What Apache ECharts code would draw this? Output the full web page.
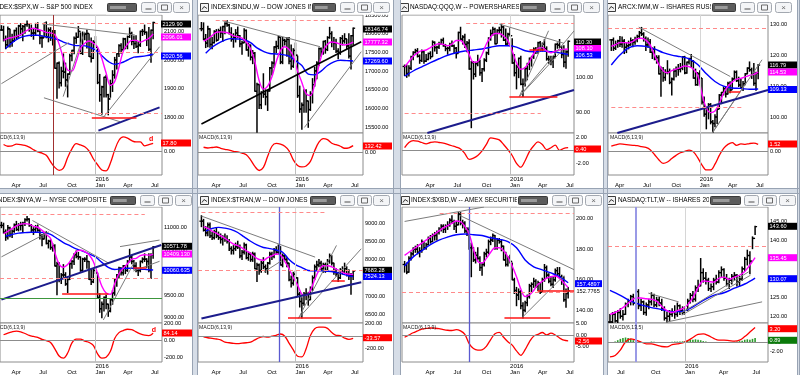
<!DOCTYPE html>
<html><head><meta charset="utf-8">
<script src="https://cdn.jsdelivr.net/npm/echarts@6/dist/echarts.min.js"></script>
<style>html,body{margin:0;padding:0;background:#fff}#c{width:800px;height:375px}</style>
</head><body><div id="c"></div><script>
// ================= DATA =================
// ---- S&P 500 ----
const spxStart='2015-02-27';
const spxHi=[2119,2117,2083,2114,2107,2089,2103,2111,2120,2126,2120,2123,2135,2126,2121,2109,2127,2129,2102,2082,2127,2132,2111,2112,2102,2102,1990,1993,1975,2021,1989,1952,2020,2034,2080,2094,2116,2094,2097,2094,2104,2090,2076,2067,2081,2039,1950,1909,1940,1947,1881,1930,1963,2009,2022,2053,2056,2075,2075,2083,2111,2096,2083,2084,2062,2100,2106,2121,2097,2113,2104,2131];
const spxLo=[2103,2066,2039,2045,2045,2048,2064,2073,2079,2086,2067,2093,2117,2100,2082,2072,2085,2098,2056,2044,2080,2077,2063,2068,2052,1971,1867,1903,1910,1938,1909,1872,1951,1997,2022,2058,2079,2022,2019,2070,2042,2012,1993,2005,2043,1918,1857,1812,1872,1872,1810,1871,1891,1937,1969,2012,2023,2034,2039,2039,2078,2053,2040,2043,2025,2047,2085,2089,2050,2033,1992,2074];
const spxCl=[2104,2071,2053,2108,2061,2067,2102,2081,2118,2108,2116,2123,2126,2107,2093,2094,2110,2101,2077,2077,2127,2080,2104,2078,2092,1971,1989,1921,1961,1958,1931,1951,2015,2033,2075,2079,2099,2023,2089,2090,2092,2012,2006,2061,2044,1922,1880,1907,1940,1880,1865,1918,1948,2000,2022,2050,2036,2073,2048,2081,2092,2065,2057,2047,2052,2099,2099,2096,2071,2037,2103,2130];
const spxPink=[2068,2075,2078,2082,2088,2098,2106,2110,2106,2102,2096,2094,2088,2055,2005,1965,1962,1995,2040,2058,2066,2058,2045,2005,1955,1912,1925,1975,2030,2055,2068,2068,2062,2068,2075,2090];
const spxBlue=[2040,2060,2075,2083,2086,2086,2082,2078,2072,2062,2055,2050,2050,2045,2035,2015,1995,1985,1990,2000,2010,2012,2015,2020];
const spxMacd=[15,11,12,16,15,13,9,3,-2,-5,-10,-25,-38,-45,-40,-15,5,17,14,10,0,-18,-32,-44,-46,-28,2,25,33,30,24,21,21,12,15,18];
const spxSteps=[2,3,2];
const spxLbl=['2129.90','2096.01','2020.56','17.80'];
const spxTicks=[1800,1900,2000,2100];
const spxMTicks=[0];
const spxGray=[[0,1918,31.5,2060],[28.9,1873,38.9,2098],[19.1,2125,62.4,2087],[19.9,1869,55.5,1786],[47.7,1801,74,2046]];
const spxNavy=[[45.4,1755,74,1836]];
const spxDash=[2126,2027,1817];
const spxRedSpan=[[42.3,1800,63.2]];
const spxVert=[24.1];

// ---- Dow Jones Industrials ----
const djiStart='2015-02-27';
const djiHi=[18300,18290,17980,18200,18130,17900,18080,18110,18120,18180,18200,18290,18350,18250,18160,18000,18110,18180,17950,17800,18130,18100,17750,17700,17550,17500,16680,16650,16450,16930,16500,16480,17100,17250,17650,17800,17930,17900,17900,17850,17900,17900,17700,17600,17750,17400,16600,16150,16500,16500,16200,16450,16800,17100,17250,17620,17620,17800,17820,17920,18170,18050,17900,17850,17600,17900,17950,18000,17850,18000,17950,18150];
const djiLo=[18080,17840,17630,17650,17640,17600,17750,17800,17850,17900,17800,18000,18200,17990,17800,17640,17780,17900,17650,17450,17760,17560,17400,17300,17200,16460,15370,16000,16000,16300,16100,15950,16470,16900,17100,17500,17600,17200,17200,17700,17400,17200,17050,17100,17400,16300,15900,15450,15900,15900,15500,15950,16150,16600,16800,17150,17400,17450,17480,17550,17880,17650,17580,17500,17330,17450,17700,17750,17600,17350,17060,17700];
const djiCl=[18133,17856,17749,18128,17713,17763,18058,17826,18080,18024,18191,18272,18232,18011,17849,17899,18016,17947,17730,17760,18086,17568,17690,17373,17477,16460,16643,16102,16433,16385,16315,16472,17084,17216,17647,17664,17910,17245,17824,17798,17848,17265,17128,17553,17425,16347,15988,16094,16466,16205,15974,16392,16640,17007,17213,17602,17516,17793,17577,17898,18004,17774,17741,17535,17501,17873,17807,17865,17675,17400,17949,18147];
const djiPink=[17800,17860,17950,18040,18050,18040,18010,17940,17920,17880,17780,17600,17250,16750,16520,16600,16850,17250,17550,17650,17580,17400,17000,16700,16400,16350,16650,17150,17550,17720,17780,17760,17720,17700,17720,17777];
const djiBlue=[17480,17640,17750,17830,17870,17860,17840,17760,17620,17530,17470,17460,17440,17400,17280,17150,16920,16900,17000,17150,17250,17290,17280,17270];
const djiMacd=[100,85,95,105,80,60,45,20,10,-15,-50,-150,-280,-360,-300,-80,120,175,160,120,30,-150,-260,-290,-270,-180,30,200,270,250,180,150,120,80,90,132];
const djiSteps=[2,3,2];
const djiLbl=['18146.74','17777.32','17269.60','132.42'];
const djiTicks=[15500,16000,16500,17000,17500,18000,18500];
const djiMTicks=[0];
const djiBlack=[[0,15589,74.8,17787]];
const djiGray=[[9.8,18348,55.5,17653],[48.2,15496,74.8,17520]];
const djiDashSpan=[[6.7,18348,71]];

// ---- QQQ ----
const qqqStart='2015-01-23';
const qqqHi=[103.5,103.5,103.3,106.0,107.3,108.0,108.2,106.4,107.8,107.5,106.5,106.9,107.3,110.4,110.1,108.9,110.0,110.9,111.2,109.4,108.6,109.7,110.4,109.2,108.5,112.9,114.3,111.9,112.3,110.2,110.7,104.5,104.5,104.3,106.3,104.9,102.5,105.3,107.2,111.3,113.5,114.3,114.0,113.6,114.3,115.3,114.5,113.8,112.6,114.0,111.0,106.5,103.5,105.5,106.0,99.5,102.8,104.0,105.5,106.0,108.4,108.5,110.0,110.2,109.8,110.8,108.7,106.0,106.0,106.0,109.5,109.8,110.8,108.9,109.0,107.6,110.4];
const qqqLo=[100.5,100.0,100.4,102.2,105.0,106.9,105.8,104.0,104.5,104.0,104.5,105.0,105.3,106.0,107.5,106.8,108.2,109.5,108.9,107.6,106.6,107.6,108.8,107.0,105.5,107.0,110.6,109.5,108.5,107.3,102.3,85.6,99.5,100.2,103.3,100.6,98.8,101.8,104.5,106.5,110.6,112.0,109.5,109.7,112.7,111.5,110.5,109.2,109.5,111.8,104.0,100.4,96.7,99.9,97.9,94.5,97.5,99.3,102.2,103.2,105.4,106.8,106.9,107.5,107.5,108.0,104.9,104.0,103.6,102.8,105.6,108.3,108.5,105.6,103.0,102.6,106.0];
const qqqCl=[103.1,101.1,102.6,105.8,107.1,107.6,106.0,104.8,107.3,104.6,105.1,106.8,105.9,110.0,108.5,108.6,109.6,110.6,109.0,108.2,108.3,109.4,109.0,108.3,106.8,112.8,110.9,111.5,109.4,109.8,102.4,104.2,100.9,103.9,104.5,101.3,102.4,104.9,107.0,111.1,112.5,113.7,109.6,113.4,113.5,114.4,110.6,109.5,112.3,111.9,104.1,101.3,103.0,105.4,98.0,98.0,102.5,103.8,105.4,105.9,108.0,107.6,109.9,108.2,109.5,108.2,105.3,105.1,104.5,105.9,109.4,109.2,108.6,106.5,104.3,107.3,110.3];
const qqqPink=[103.0,104.5,106.0,107.0,107.6,107.8,108.5,109.2,109.6,109.4,109.0,109.5,110.5,110.5,109.0,106.5,104.3,104.5,106.5,109.5,111.5,112.5,112.5,111.8,110.5,107.5,104.2,102.3,102.8,104.5,106.8,108.3,108.5,107.5,107.0,107.5,107.8,108.0,108.1];
const qqqBlue=[100.3,101.8,103.0,104.2,105.3,106.3,107.0,107.5,107.8,108.1,108.6,109.0,109.0,108.6,107.6,107.3,107.5,107.3,107.0,106.5];
const qqqMacd=[0.4,1.2,1.5,1.4,1.2,1.0,1.2,1.3,1.2,1.1,0.9,0.7,0.5,0.2,-0.5,-1.4,-1.2,-0.8,-0.1,0.9,1.9,1.8,1.6,0.9,0.1,-0.8,-2.0,-2.6,-1.6,-0.2,0.7,1.3,0.9,0.1,0.4,0.8,0.0,0.3,0.4];
const qqqSteps=[2,4,2];
const qqqLbl=['110.30','108.10','106.53','0.40'];
const qqqTicks=[90,100,110];
const qqqMTicks=[-2,0,2];
const qqqGray=[[44,115.2,74.1,109.7],[53.3,94.5,66.9,113.3],[53.3,94.5,78.8,113.3],[53.3,94.5,74.1,108.3]];
const qqqNavy=[[10.1,84,78.8,96.4]];
const qqqRedSpan=[[48.7,94.5,71],[58,107.8,64.9]];
const qqqDashSpan=[[28.6,115.4,78.8],[0,89.7,63.3]];

// ---- IWM ----
const iwmStart='2015-03-20';
const iwmHi=[125.0,125.5,124.5,124.8,126.0,125.8,125.0,123.8,124.5,125.5,125.0,125.7,126.4,127.6,128.9,127.2,125.8,125.5,125.0,122.3,122.7,119.8,119.8,116.2,116.0,115.3,118.2,115.5,112.6,115.5,116.2,117.0,117.3,119.5,119.6,117.8,119.0,120.2,118.2,115.5,114.4,115.0,112.5,106.5,103.0,104.4,104.4,99.0,100.8,102.8,107.3,108.0,109.8,109.7,111.3,111.4,112.6,114.9,114.9,112.9,112.2,111.5,114.1,115.9,117.8,115.8,117.3,114.5,117.0];
const iwmLo=[121.5,121.5,121.8,122.5,122.8,122.5,120.5,120.8,122.0,123.2,122.7,123.5,124.3,125.5,126.3,124.5,121.5,122.5,120.8,118.9,118.5,117.4,113.9,106.8,111.6,111.9,114.0,110.8,107.2,112.0,113.0,113.5,114.6,115.3,114.0,114.2,117.1,116.1,112.6,110.3,110.3,112.2,104.3,100.3,96.3,99.5,97.9,94.8,97.0,98.0,102.8,104.4,107.2,106.5,107.5,107.9,109.0,112.3,111.5,109.9,109.5,108.6,110.5,114.0,114.8,112.5,110.3,108.7,112.4];
const iwmCl=[124.9,122.2,123.5,124.6,123.5,124.5,122.5,123.0,123.3,124.6,124.2,125.0,126.0,127.2,126.8,125.1,123.3,124.2,120.9,122.0,118.7,119.2,114.0,115.2,112.8,114.4,114.7,111.2,112.3,114.9,115.5,115.5,115.9,119.4,114.3,117.7,118.8,118.0,112.6,110.5,114.0,112.6,104.9,101.0,102.5,104.1,98.5,98.0,100.1,102.6,107.1,108.0,109.2,107.5,110.9,108.8,112.3,114.5,111.8,110.4,109.5,110.8,114.0,115.8,115.3,113.8,110.9,114.2,116.8];
const iwmPink=[122.8,123.4,124.0,124.0,123.9,124.4,125.3,125.4,124.8,123.3,120.0,117.0,115.0,114.3,115.0,115.5,116.0,116.5,116.3,115.5,113.5,107.5,103.0,101.5,102.0,104.5,107.8,110.0,111.3,112.3,112.5,113.0,113.5,113.8,114.5];
const iwmBlue=[116.8,120.0,122.3,123.0,122.8,122.0,120.8,120.0,119.5,118.8,117.0,114.0,111.5,110.0,109.4,109.3,109.0,109.1];
const iwmMacd=[1.1,1.4,1.6,1.5,1.4,1.3,1.2,1.0,0.8,0.3,-0.8,-2.0,-2.8,-2.5,-1.7,-1.0,-0.4,-0.1,0.2,-0.2,-1.5,-3.2,-4.3,-4.3,-3.0,-1.0,0.6,1.5,1.9,1.3,1.6,1.5,1.7,1.8,1.5];
const iwmSteps=[2,4,2];
const iwmLbl=['116.79','114.53','109.13','1.52'];
const iwmTicks=[100,110,120,130];
const iwmMTicks=[0];
const iwmGray=[[12.7,129,55.1,113.1],[45.8,94,69.8,118.5],[45.8,94,62.8,111.5]];
const iwmNavy=[[-0.5,94.3,72.8,108.8]];
const iwmDash=[128.6];
const iwmDashSpan=[[0,103.2,61.3]];
const iwmRedSpan=[[54.3,108.3,59.7]];

// ---- NYSE Composite ----
const nyaStart='2015-02-27';
const nyaHi=[11120,11100,10950,11050,11010,10950,11080,11140,11090,11120,11120,11200,11250,11200,11070,11000,11050,11060,10960,10850,10900,10910,10720,10730,10640,10620,10230,10220,9980,10180,10000,9860,10220,10270,10420,10480,10450,10350,10320,10330,10380,10250,10070,10080,10140,9990,9530,9350,9460,9500,9300,9420,9600,9870,9960,10120,10110,10160,10160,10270,10520,10380,10270,10220,10100,10260,10330,10420,10310,10420,10420,10580];
const nyaLo=[11000,10880,10720,10750,10800,10780,10900,10940,10930,10950,10900,11050,11150,11030,10900,10850,10900,10920,10750,10600,10750,10640,10550,10520,10480,10150,9510,9800,9760,9900,9720,9560,9850,10100,10180,10330,10300,10030,10040,10250,10100,9850,9740,9780,9980,9430,9120,9000,9150,9200,9030,9130,9300,9500,9700,9880,9950,9950,9980,10030,10240,10200,10080,10020,9940,10020,10220,10250,10120,10020,9870,10320];
const nyaCl=[11050,10900,10800,11000,10850,10920,11060,10960,11060,11050,11100,11180,11190,11050,10950,10960,11000,10940,10820,10750,10880,10650,10700,10560,10600,10150,10200,9850,9950,9950,9750,9850,10200,10250,10400,10360,10350,10050,10300,10300,10250,9850,9800,10050,10000,9450,9200,9300,9450,9300,9150,9400,9550,9850,9950,10100,10000,10150,10050,10250,10350,10250,10150,10050,10050,10250,10300,10300,10250,10050,10400,10572];
const nyaPink=[10870,10920,10980,11040,11080,11090,11080,11030,11010,10940,10850,10760,10450,10190,10120,10180,10320,10470,10500,10470,10400,10250,9980,9700,9550,9520,9760,9980,10100,10200,10300,10320,10380,10400,10390,10409];
const nyaBlue=[10810,10850,10880,10890,10900,10900,10890,10850,10760,10670,10600,10530,10480,10420,10350,10230,10120,10070,10090,10100,10100,10080,10070,10060];
const nyaMacd=[65,85,100,108,100,80,58,45,35,10,-5,-25,-100,-185,-210,-150,-30,15,15,-10,-25,-60,-160,-210,-200,-130,20,90,115,130,125,100,75,60,55,84];
const nyaSteps=[2,3,2];
const nyaLbl=['10571.78','10409.130','10060.635','84.14'];
const nyaTicks=[9000,9500,10000,10500,11000];
const nyaMTicks=[-200,0,200];
const nyaNavy=[[0,9402,74.8,10617]];
const nyaGray=[[0,10352,22.2,10906],[14.5,11160,50,10218],[47.7,8950,62.4,10254],[55.5,10580,74,10725],[61.7,10037,74,10254]];
const nyaDashSpan=[[0,11291,67.1]];
const nyaDash=[9870];
const nyaRedSpan=[[28.4,9536,50.1],[61.7,10102,67.9]];
const nyaGreen=[9443];

// ---- Dow Jones Transports ----
const trnStart='2015-02-27';
const trnHi=[9200,9100,8900,9000,9000,8750,8800,8850,8750,8700,8650,8700,8650,8550,8350,8380,8450,8500,8400,8250,8450,8420,8200,8180,8200,8180,7900,7880,7950,8050,7850,7920,8200,8200,8300,8350,8400,8350,8150,8120,8050,7900,7550,7650,7680,7500,7100,6950,7100,7200,7100,7250,7550,7850,7950,8000,7950,7900,7900,8000,8150,8100,7900,7750,7650,7750,7800,7900,7800,7720,7620,7700];
const trnLo=[8900,8780,8650,8650,8600,8550,8560,8600,8550,8450,8400,8500,8450,8250,8150,8150,8250,8300,8050,8000,8150,8020,7980,7950,7950,7750,7400,7600,7650,7750,7650,7600,7880,8000,8050,8150,8150,7850,7800,7980,7800,7420,7250,7300,7480,7000,6700,6400,6750,6900,6750,6900,7150,7450,7700,7800,7700,7650,7650,7700,7900,7850,7600,7550,7400,7480,7600,7650,7550,7450,7050,7450];
const trnCl=[9050,8800,8730,8950,8650,8600,8750,8650,8600,8550,8600,8550,8500,8300,8250,8300,8350,8350,8100,8200,8400,8050,8150,8000,8150,7750,7850,7700,7900,7800,7750,7900,8150,8100,8250,8200,8350,7850,8100,8000,7900,7450,7350,7600,7500,7050,6850,6800,7050,7050,6900,7200,7500,7800,7850,7900,7750,7850,7700,7950,8100,7900,7650,7600,7500,7700,7650,7750,7600,7550,7550,7683];
const trnPink=[8900,8850,8780,8720,8650,8580,8500,8420,8380,8320,8240,8170,8070,8000,7980,8050,8100,8150,8120,7950,7750,7500,7300,7050,7020,7150,7450,7700,7830,7830,7800,7740,7680,7620,7600,7590];
const trnBlue=[8780,8850,8880,8860,8820,8740,8620,8500,8400,8330,8300,8260,8200,8000,7860,7780,7700,7690,7690,7680,7660,7620,7570,7530];
const trnMacd=[-10,-25,-35,-45,-60,-95,-105,-115,-120,-112,-105,-95,-60,-25,-5,-15,0,15,35,0,-110,-220,-320,-330,-200,10,120,145,145,125,60,15,10,-30,-50,-34];
const trnSteps=[2,3,2];
const trnLbl=['7683.28','7524.13','-33.57'];
const trnTicks=[6500,7000,7500,8000,8500,9000];
const trnMTicks=[-200,0,200];
const trnNavy=[[0,6385,74.8,7379]];
const trnGray=[[0,9189,53.2,8066],[45.4,6390,63.2,8386],[45.4,6390,74.8,8295],[29.2,7654,37.7,7974]];
const trnDashSpan=[[0,9300,58.6]];
const trnDash=[7718];
const trnRedSpan=[[40.5,6400,60.9],[60.9,7430,67.1]];
const trnVert=[36.6];

// ---- AMEX Securities Broker/Dealer ----
const xbdStart='2015-01-23';
const xbdHi=[172,171,175,178,181,182,183,181,186,185,184,188,189,190,191,192,194,196,196,196,198,200,202,199,198,204,204,199,198,194,194,184,181,178,181,175,171,178,180,186,188,190,189,187,187,186,182,178,175,176,171,161,155,154,153,145,146,150,157,158,161,160,159,158,161,170,169,164,162,162,167,168,168,163,162,154,155];
const xbdLo=[165,164,165,173,176,178,177,175,178,180,180,183,184,185,186,186,190,192,191,191,193,195,197,193,191,196,196,194,191,189,180,162,172,171,173,166,163,169,175,177,183,185,180,180,184,179,173,169,169,171,160,151,143,147,141,135,139,143,148,152,155,155,153,151,152,159,161,158,156,155,159,163,161,157,146,142,148];
const xbdCl=[170,165,174,177,180,180,178,179,185,181,183,187,185,189,189,191,193,195,193,195,196,199,198,195,196,203,197,197,192,193,181,181,173,176,174,168,170,177,178,185,186,189,181,186,185,182,173,170,174,172,160,153,150,152,143,140,145,149,156,157,159,156,158,152,160,168,163,159,157,160,166,164,162,159,147,151,152.8];
const xbdPink=[176,178,180,182,184,186,188,190,192,194,195.5,197,198.5,198,195,190,180,172,171,174,178,181,181,179,175,169,162,154,149,150,153,157,159,161,162,162.5,161,158,155];
const xbdBlue=[169,175,179,183,186,188,189.5,190,189.5,189,187.5,186.5,185,181,173,168.5,166.5,164.5,162,158];
const xbdMacd=[-1.0,0.0,1.0,1.8,2.6,2.9,3.1,3.0,2.8,2.4,2.1,2.0,2.4,1.8,0.3,-3.8,-6.0,-6.7,-6.6,-5.0,-2.0,0.5,1.2,-1.0,-3.0,-4.5,-7.0,-9.0,-6.5,-3.0,-0.5,0.3,1.1,0.0,0.8,0.0,-1.3,-2.3,-2.56];
const xbdSteps=[2,4,2];
const xbdLbl=['157.4897','152.7765','-2.56'];
const xbdTicks=[140,160,180,200];
const xbdMTicks=[-5,0,5];
const xbdGray=[[0,198.2,38.6,208.1],[25.5,202.2,79.5,166.1],[54.8,135.5,74.1,162.8]];
const xbdDashSpan=[[16.3,203.3,79.5]];
const xbdDash=[151.6];
const xbdRedSpan=[[46.4,135,67.7],[61.8,152.6,78.8]];
const xbdVert=[30.2];

// ---- TLT ----
const tltStart='2015-06-12';
const tltHi=[120.5,121.0,121.2,121.5,122.0,121.5,123.5,124.5,125.5,125.8,128.8,127.0,124.5,124.0,123.5,124.5,126.2,125.8,125.0,125.0,124.5,122.5,121.0,121.5,122.0,122.8,123.5,123.0,122.5,122.5,124.5,126.0,126.5,128.0,129.5,135.2,132.5,131.5,130.0,128.5,130.0,130.8,132.0,133.0,132.5,131.0,130.0,131.0,131.5,131.0,130.5,133.0,135.5,137.4,137.0,140.9,143.7];
const tltLo=[118.0,118.3,118.5,118.2,119.5,119.0,120.5,122.5,123.0,123.0,123.5,122.0,121.5,120.5,120.3,122.0,123.0,122.5,122.5,122.8,121.5,119.0,118.5,118.8,120.0,119.5,120.0,120.5,120.5,120.5,121.5,123.5,123.8,124.0,126.5,128.0,129.0,128.5,126.8,126.5,127.0,128.5,128.8,130.5,129.5,128.0,127.3,128.5,129.5,128.0,128.0,129.5,132.0,133.5,131.2,137.8,141.5];
const tltCl=[118.5,120.5,118.8,121.0,120.0,120.5,123.2,124.0,125.2,123.5,126.5,122.8,123.8,121.0,123.0,123.8,125.5,123.0,124.3,123.5,122.0,119.5,120.0,120.5,121.0,120.5,122.8,121.5,121.0,121.8,124.0,125.5,124.5,127.5,128.0,131.5,130.0,129.5,127.3,127.8,129.5,129.0,131.5,132.3,130.0,128.5,129.5,130.5,130.8,129.0,129.8,132.5,135.0,136.0,134.5,140.5,143.6];
const tltPink=[120.5,121.0,121.8,122.8,124.0,124.8,124.8,124.6,124.5,124.0,122.6,121.5,121.0,121.5,122.0,123.0,125.0,127.5,129.3,129.2,129.0,130.0,130.3,129.7,130.3,130.8,131.8,133.5,135.45];
const tltBlue=[126.8,125.5,124.0,123.0,122.3,121.8,121.2,121.3,122.5,124.2,125.5,126.2,127.4,128.5,130.07];
const tltMacd=[-3.3,-3.0,-1.8,0.0,0.7,0.4,0.0,-0.4,-0.4,-0.7,-1.0,-1.1,-0.6,-0.4,-0.2,0.3,1.0,1.7,1.8,1.4,0.8,0.4,0.4,0.3,0.2,0.4,1.2,2.2,3.2];
const tltHist=[-0.2,-0.1,0.1,0.4,0.7,0.9,1.0,0.9,0.7,0.4,0.2,0.1,-0.1,-0.2,-0.1,0.0,0.1,0.05,0.0,-0.05,-0.1,-0.2,-0.2,-0.1,0.05,0.1,0.1,0.1,0.15,0.2,0.3,0.5,0.5,0.6,0.5,0.4,0.2,0.1,-0.1,-0.2,-0.2,-0.1,-0.05,0.0,-0.1,-0.2,-0.1,-0.05,0.05,0.1,0.2,0.3,0.5,0.6,0.5,0.7,0.89];
const tltSteps=[2,4,2];
const tltLbl=['143.60','135.45','130.07','3.20','0.89'];
const tltTicks=[120,125,130,135,140,145];
const tltMTicks=[-2,0];
const tltGray=[[14.8,126.1,26.5,123.8],[21.9,118.5,58.7,123.8],[27.7,120.3,54.2,130.8],[27.1,120.7,53.5,131.7]];
const tltDash=[138.4];
const tltVert=[10.1];

const titles=['INDEX:$SPX,W -- S&P 500 INDEX','INDEX:$INDU,W -- DOW JONES INDUSTRIALS','NASDAQ:QQQ,W -- POWERSHARES QQQ TRUST','ARCX:IWM,W -- ISHARES RUSSELL 2000','INDEX:$NYA,W -- NYSE COMPOSITE INDEX','INDEX:$TRAN,W -- DOW JONES TRANSPORTATION','INDEX:$XBD,W -- AMEX SECURITIES BROKER/DEALER','NASDAQ:TLT,W -- ISHARES 20+ YEAR TREASURY'];
const macdTitles=['MACD(6,13,9)','MACD(6,13,9)','MACD(6,13,9)','MACD(6,13,9)','MACD(6,13,9)','MACD(6,13,9)','MACD(6,13,9)','MACD(6,13,5)'];
const monthNames={90:'Apr',181:'Jul',273:'Oct',365:'Jan',456:'Apr',547:'Jul'};
const quarterDays=[90,181,273,365,456,547];

// ================= BUNDLES =================
const D={
 spx:{start:spxStart,hi:spxHi,lo:spxLo,cl:spxCl,pink:spxPink,blue:spxBlue,macd:spxMacd,steps:spxSteps,lbl:spxLbl,ticks:spxTicks,mticks:spxMTicks,gray:spxGray,navy:spxNavy,dash:spxDash,redSpan:spxRedSpan,vert:spxVert},
 dji:{start:djiStart,hi:djiHi,lo:djiLo,cl:djiCl,pink:djiPink,blue:djiBlue,macd:djiMacd,steps:djiSteps,lbl:djiLbl,ticks:djiTicks,mticks:djiMTicks,gray:djiGray,black:djiBlack,dashSpan:djiDashSpan},
 qqq:{start:qqqStart,hi:qqqHi,lo:qqqLo,cl:qqqCl,pink:qqqPink,blue:qqqBlue,macd:qqqMacd,steps:qqqSteps,lbl:qqqLbl,ticks:qqqTicks,mticks:qqqMTicks,gray:qqqGray,navy:qqqNavy,redSpan:qqqRedSpan,dashSpan:qqqDashSpan},
 iwm:{start:iwmStart,hi:iwmHi,lo:iwmLo,cl:iwmCl,pink:iwmPink,blue:iwmBlue,macd:iwmMacd,steps:iwmSteps,lbl:iwmLbl,ticks:iwmTicks,mticks:iwmMTicks,gray:iwmGray,navy:iwmNavy,dash:iwmDash,dashSpan:iwmDashSpan,redSpan:iwmRedSpan},
 nya:{start:nyaStart,hi:nyaHi,lo:nyaLo,cl:nyaCl,pink:nyaPink,blue:nyaBlue,macd:nyaMacd,steps:nyaSteps,lbl:nyaLbl,ticks:nyaTicks,mticks:nyaMTicks,gray:nyaGray,navy:nyaNavy,dash:nyaDash,dashSpan:nyaDashSpan,redSpan:nyaRedSpan,green:nyaGreen},
 trn:{start:trnStart,hi:trnHi,lo:trnLo,cl:trnCl,pink:trnPink,blue:trnBlue,macd:trnMacd,steps:trnSteps,lbl:trnLbl,ticks:trnTicks,mticks:trnMTicks,gray:trnGray,navy:trnNavy,dash:trnDash,dashSpan:trnDashSpan,redSpan:trnRedSpan,vert:trnVert},
 xbd:{start:xbdStart,hi:xbdHi,lo:xbdLo,cl:xbdCl,pink:xbdPink,blue:xbdBlue,macd:xbdMacd,steps:xbdSteps,lbl:xbdLbl,ticks:xbdTicks,mticks:xbdMTicks,gray:xbdGray,dash:xbdDash,dashSpan:xbdDashSpan,redSpan:xbdRedSpan,vert:xbdVert},
 tlt:{start:tltStart,hi:tltHi,lo:tltLo,cl:tltCl,pink:tltPink,blue:tltBlue,macd:tltMacd,hist:tltHist,steps:tltSteps,lbl:tltLbl,ticks:tltTicks,mticks:tltMTicks,gray:tltGray,dash:tltDash,vert:tltVert}
};

// ================= LAYOUT =================
const MAG='#ff00ff', BLU='#0000ff', RED='#ff0000', BLK='#000000', GRN='#0a7a0a';
const L=[
 {k:'spx',row:0,left:0,right:162,winL:0,winR:192,xA:[90,11.5,547,151],yA:[2000,60,1800,117.7],mA:[0,151,-50,172.5],boxX:161,boxW:30,
  boxes:[[24,BLK,'#fff'],[37,MAG,'#fff'],[56,BLU,'#fff'],[143,RED,'#fff']],textX:-7,icon:null,sleek:[107,136],btn:[141,157,173],macdX:-8,vcol:'#a03030',vw:1,dMark:[149,139]},
 {k:'dji',row:0,left:198,right:363,winL:198,winR:393,xA:[90,211.5,547,351],yA:[18500,15,15500,127.3],mA:[0,152.3,-200,162.4],boxX:363,boxW:29,
  boxes:[[29,BLK,'#fff'],[42,MAG,'#fff'],[61,BLU,'#fff'],[146,RED,'#fff']],textX:211,icon:200,sleek:[312,335],btn:[340,357,373],macdX:199},
 {k:'qqq',row:0,left:402,right:574,winL:401,winR:603,xA:[90,425.5,547,566],yA:[100,77.3,90,112.3],mA:[2,137.3,-2,163.3],boxX:574,boxW:27,
  boxes:[[42,BLK,'#fff'],[48.5,MAG,'#fff'],[55,BLU,'#fff'],[149,RED,'#fff']],textX:410,icon:400,sleek:[520,545],btn:[550,567,583],macdX:403},
 {k:'iwm',row:0,left:608,right:768,winL:608,winR:797,xA:[90,615,547,756],yA:[130,24,100,117.3],mA:[0,151,-2,159.8],boxX:768,boxW:29,
  boxes:[[65,BLK,'#fff'],[72,MAG,'#fff'],[89.5,BLU,'#fff'],[144,RED,'#fff']],textX:618,icon:607,sleek:[712,735],btn:[740,757,775],macdX:610},
 {k:'nya',row:1,left:0,right:162,winL:0,winR:192,xA:[90,11.5,547,151],yA:[11000,227.7,9000,317.7],mA:[0,340.3,-200,357.3],boxX:162,boxW:30,
  boxes:[[246.3,BLK,'#fff'],[254,MAG,'#fff'],[270.3,BLU,'#fff'],[333,RED,'#fff']],textX:-4,icon:null,sleek:[110,135],btn:[140,158,175],macdX:-8,dMark:[151.7,330.3]},
 {k:'trn',row:1,left:198,right:363,winL:198,winR:393,xA:[90,211.5,547,351],yA:[9000,223,6500,314.3],mA:[200,323.7,-200,348.7],boxX:363,boxW:29,
  boxes:[[270.3,BLK,'#fff'],[276.5,BLU,'#fff'],[337.7,RED,'#fff']],textX:211,icon:200,sleek:[310,335],btn:[340,357,373],macdX:199,vcol:'#5a5ad0',vw:1.3},
 {k:'xbd',row:1,left:402,right:574,winL:401,winR:603,xA:[90,425.5,547,566],yA:[200,218.7,140,310.3],mA:[5,323.7,-5,346.3],boxX:575,boxW:27,
  boxes:[[283.7,BLU,'#fff'],[291,'#ffffff','#000'],[341,RED,'#fff']],textX:411,icon:401,sleek:[518,547],btn:[552,568,585],macdX:403,vcol:'#5a5ad0',vw:1.3},
 {k:'tlt',row:1,left:608,right:768,winL:608,winR:797,xA:[181,617,547,752.5],yA:[145,221.3,120,316.3],mA:[0,342,-2,351],boxX:768,boxW:29,
  boxes:[[226.3,BLK,'#fff'],[257.7,MAG,'#fff'],[278.7,BLU,'#fff'],[328.7,RED,'#fff'],[340.3,GRN,'#fff']],textX:618,icon:607,sleek:[710,740],btn:[744,762,779],macdX:610,vcol:'#9a9ae6',vw:2}
];

// ================= BUILD =================
const FONT="'Liberation Sans', Arial, sans-serif";
const DAY0=Date.UTC(2015,0,1);
function dayOf(s){const p=s.split('-').map(Number);return Math.round((Date.UTC(p[0],p[1]-1,p[2])-DAY0)/86400000);}
function valAt(a,px){return a[0]+(px-a[1])*(a[2]-a[0])/(a[3]-a[1]);}
function clipSeg(x1,y1,x2,y2,xa,xb,ya,yb){
  let t0=0,t1=1;const dx=x2-x1,dy=y2-y1;
  const p=[-dx,dx,-dy,dy],q=[x1-xa,xb-x1,y1-ya,yb-y1];
  for(let i=0;i<4;i++){
    if(p[i]===0){if(q[i]<0)return null;}
    else{const r=q[i]/p[i];if(p[i]<0){if(r>t1)return null;if(r>t0)t0=r;}else{if(r<t0)return null;if(r<t1)t1=r;}}
  }
  return [x1+t0*dx,y1+t0*dy,x1+t1*dx,y1+t1*dy];
}
function renderBar(params,api){
  const x=api.value(0);
  const h=api.coord([x,api.value(1)]),l=api.coord([x,api.value(2)]);
  const c=api.coord([x,api.value(3)]),o=api.coord([x,api.value(4)]);
  const s={stroke:'#000',lineWidth:1.5};
  const t={stroke:'#000',lineWidth:1.3};
  return {type:'group',children:[
    {type:'line',shape:{x1:h[0],y1:h[1]-0.5,x2:l[0],y2:l[1]+0.5},style:s},
    {type:'line',shape:{x1:o[0]-2,y1:o[1],x2:o[0],y2:o[1]},style:t},
    {type:'line',shape:{x1:c[0],y1:c[1],x2:c[0]+2,y2:c[1]},style:t}
  ]};
}
const STY={
  gray:{color:'#7c7c7c',width:1,type:'solid'},
  navy:{color:'#1c1c8c',width:2,type:'solid'},
  black:{color:'#000',width:1.6,type:'solid'},
  dash:{color:'#ff8a8a',width:1,type:[4,3]},
  red:{color:'#ff1414',width:1.5,type:'solid'},
  green:{color:'#3c963c',width:1,type:'solid'}
};
const option={animation:false,backgroundColor:'#ffffff',grid:[],xAxis:[],yAxis:[],series:[],graphic:[]};
const G=[];
function rect(x,y,w,h,fill,stroke,r,z){G.push({type:'rect',z:z||100,silent:true,shape:{x:x,y:y,width:w,height:h,r:r||0},style:{fill:fill,stroke:stroke||null,lineWidth:stroke?1:0}});}
function text(x,y,s,size,fill,align,weight,z){G.push({type:'text',z:z||101,silent:true,style:{text:s,x:x,y:y,fill:fill,font:(weight||'normal')+' '+size+'px '+FONT,align:align||'left',textAlign:align||'left',verticalAlign:'middle',textVerticalAlign:'middle'}});}
function seg(x1,y1,x2,y2,stroke,w,z){G.push({type:'line',z:z||101,silent:true,shape:{x1:x1,y1:y1,x2:x2,y2:y2},style:{stroke:stroke,lineWidth:w||1}});}

L.forEach((lay,k)=>{
  const d=D[lay.k];
  const top=lay.row?207:15, mid=lay.row?323:133, bot=lay.row?362:175;
  const gi=2*k, gm=2*k+1;
  const xMin=valAt(lay.xA,lay.left), xMax=valAt(lay.xA,lay.right);
  const yMax=valAt(lay.yA,top), yMin=valAt(lay.yA,mid);
  const mMax=valAt(lay.mA,mid), mMin=valAt(lay.mA,bot);
  const W=lay.right-lay.left;
  option.grid.push({left:lay.left,top:top,width:W,height:mid-top,show:true,borderColor:'#8c8c8c',borderWidth:1,backgroundColor:'#fff'});
  option.grid.push({left:lay.left,top:mid,width:W,height:bot-mid,show:true,borderColor:'#8c8c8c',borderWidth:1,backgroundColor:'#fff'});
  const qd=quarterDays.filter(q=>q>=xMin&&q<=xMax-4);
  option.xAxis.push({gridIndex:gi,type:'value',min:xMin,max:xMax,axisLine:{show:false},axisTick:{show:false},axisLabel:{show:false},splitLine:{show:false}});
  option.xAxis.push({gridIndex:gm,type:'value',min:xMin,max:xMax,axisLine:{show:false},axisTick:{show:false},splitLine:{show:false},
    axisLabel:{customValues:qd,formatter:v=>(Math.round(v)===365?'2016\nJan':'\n'+monthNames[Math.round(v)]),align:'left',fontSize:6,lineHeight:6,margin:1,color:'#000',fontFamily:FONT}});
  const yl={fontSize:5.6,margin:2,color:'#000',fontFamily:FONT,formatter:v=>v.toFixed(2)};
  option.yAxis.push({gridIndex:gi,type:'value',position:'right',min:yMin,max:yMax,axisLine:{show:false},axisTick:{show:false},splitLine:{show:false},axisLabel:Object.assign({customValues:d.ticks},yl)});
  option.yAxis.push({gridIndex:gm,type:'value',position:'right',min:mMin,max:mMax,axisLine:{show:false},axisTick:{show:false},splitLine:{show:false},axisLabel:Object.assign({customValues:d.mticks},yl)});

  const st=dayOf(d.start), n=d.hi.length;
  const X=i=>st+7*i;
  const bars=d.hi.map((h,i)=>[X(i),h,d.lo[i],d.cl[i],d.cl[i>0?i-1:0]]);
  const samp=(arr,step)=>arr.map((v,j)=>[X(n-1-step*(arr.length-1-j)),v]);

  const ml=[];
  const addSeg=(a,b,c,e,style)=>{const r=clipSeg(X(a),b,X(c),e,xMin,xMax,yMin,yMax);if(r)ml.push([{coord:[r[0],r[1]],lineStyle:style},{coord:[r[2],r[3]]}]);};
  (d.gray||[]).forEach(t=>addSeg(t[0],t[1],t[2],t[3],STY.gray));
  (d.black||[]).forEach(t=>addSeg(t[0],t[1],t[2],t[3],STY.black));
  (d.navy||[]).forEach(t=>addSeg(t[0],t[1],t[2],t[3],STY.navy));
  (d.dash||[]).forEach(v=>ml.push({yAxis:v,lineStyle:STY.dash}));
  (d.dashSpan||[]).forEach(t=>addSeg(t[0],t[1],t[2],t[1],STY.dash));
  (d.redSpan||[]).forEach(t=>addSeg(t[0],t[1],t[2],t[1],STY.red));
  (d.green||[]).forEach(v=>ml.push({yAxis:v,lineStyle:STY.green}));
  const vl=[];
  (d.vert||[]).forEach(i=>vl.push({xAxis:X(i),lineStyle:{color:lay.vcol,width:lay.vw,type:'solid'}}));
  const mk=data=>({silent:true,symbol:['none','none'],label:{show:false},animation:false,emphasis:{disabled:true},data:data});

  option.series.push({type:'custom',xAxisIndex:gi,yAxisIndex:gi,data:bars,renderItem:renderBar,clip:true,z:2,silent:true,encode:{x:0,y:[1,2]}});
  option.series.push({type:'line',xAxisIndex:gi,yAxisIndex:gi,data:samp(d.blue,d.steps[1]),smooth:0.35,symbol:'none',lineStyle:{color:BLU,width:1.4},z:3,silent:true,clip:true,
    markLine:mk(vl.concat([{xAxis:365,lineStyle:{color:'#d6d6d6',width:1,type:'solid'}}]))});
  option.series.push({type:'line',xAxisIndex:gi,yAxisIndex:gi,data:samp(d.pink,d.steps[0]),smooth:0.35,symbol:'none',lineStyle:{color:MAG,width:1.4},z:4,silent:true,clip:true,markLine:mk(ml)});
  if(d.hist){
    option.series.push({type:'bar',xAxisIndex:gm,yAxisIndex:gm,barWidth:1.6,silent:true,z:3,
      data:d.hist.map((v,i)=>({value:[X(i),v],itemStyle:{color:v>=0?'#2c9a2c':'#e03030'}}))});
  }
  option.series.push({type:'line',xAxisIndex:gm,yAxisIndex:gm,data:samp(d.macd,d.steps[2]),smooth:0.35,symbol:'none',lineStyle:{color:RED,width:1.3},z:4,silent:true,clip:true,
    markLine:mk([{yAxis:0,lineStyle:{color:'#8c8c8c',width:1,type:'solid'}},{xAxis:365,lineStyle:{color:'#bdbdbd',width:1,type:'solid'}}].concat(vl))});

  // ---- window chrome ----
  const ty0=lay.row?194:0, tyc=lay.row?200.5:7.5;
  rect(lay.winL,ty0,lay.winR-lay.winL,top-ty0-0.5,'#ffffff',null,0,99);
  text(lay.textX,tyc,titles[k],6.4,'#000','left','normal',100);
  if(lay.icon!==null){
    rect(lay.icon+0.5,tyc-4,8,8,'#f2f2f2','#3c3c3c',0,101);
    seg(lay.icon+2,tyc+2,lay.icon+4,tyc-1,'#3c3c3c',1,102);
    seg(lay.icon+4,tyc-1,lay.icon+7,tyc+1,'#3c3c3c',1,102);
  }
  rect(lay.sleek[0]-1,ty0,lay.winR-lay.sleek[0]+1,top-ty0-0.5,'#ffffff',null,0,101);
  rect(lay.sleek[0]+0.5,tyc-4,lay.sleek[1]-lay.sleek[0],8,'#5c5c5c','#3a3a3a',1,102);
  rect(lay.sleek[0]+3,tyc-1.5,(lay.sleek[1]-lay.sleek[0])*0.55,3,'#9a9a9a',null,0,103);
  const bw=[14,14,16];
  lay.btn.forEach((bx,j)=>{rect(bx+0.5,tyc-5,bw[j],10,'#f4f5f7','#a3a8b0',2,102);});
  seg(lay.btn[0]+4.5,tyc+1.5,lay.btn[0]+10.5,tyc+1.5,'#6a6a6a',1.2,103);
  rect(lay.btn[1]+4.5,tyc-2.5,6,5,null,'#6a6a6a',0,103);
  text(lay.btn[2]+8.5,tyc,'\u00d7',8,'#6a6a6a','center','normal',103);

  lay.boxes.forEach((b,j)=>{
    rect(lay.boxX,b[0]-3.5,lay.boxW,7,b[1],null,0,104);
    text(lay.boxX+1.5,b[0]+0.3,d.lbl[j],5.6,b[2],'left','normal',105);
  });
  text(lay.macdX,mid+5,macdTitles[k],5.2,'#222','left','normal',104);
  if(lay.dMark) text(lay.dMark[0],lay.dMark[1],'d',7,'#ff0000','left','bold',104);
});

// frames between windows
const FR='#d6dde7', FRL='#98a3b3';
[[192,0,6,375],[393,0,8,375],[603,0,5,375],[797,0,3,375]].forEach(f=>{rect(f[0],f[1],f[2],f[3],FR,null,0,110);seg(f[0]+0.5,0,f[0]+0.5,375,FRL,1,111);seg(f[0]+f[2]-0.5,0,f[0]+f[2]-0.5,375,FRL,1,111);});
rect(0,188,800,6,FR,null,0,110);seg(0,188.5,800,188.5,FRL,1,111);seg(0,193.5,800,193.5,FRL,1,111);
option.graphic=G;

const chart=echarts.init(document.getElementById('c'),null,{renderer:'canvas',width:800,height:375});
chart.setOption(option);
</script></body></html>
